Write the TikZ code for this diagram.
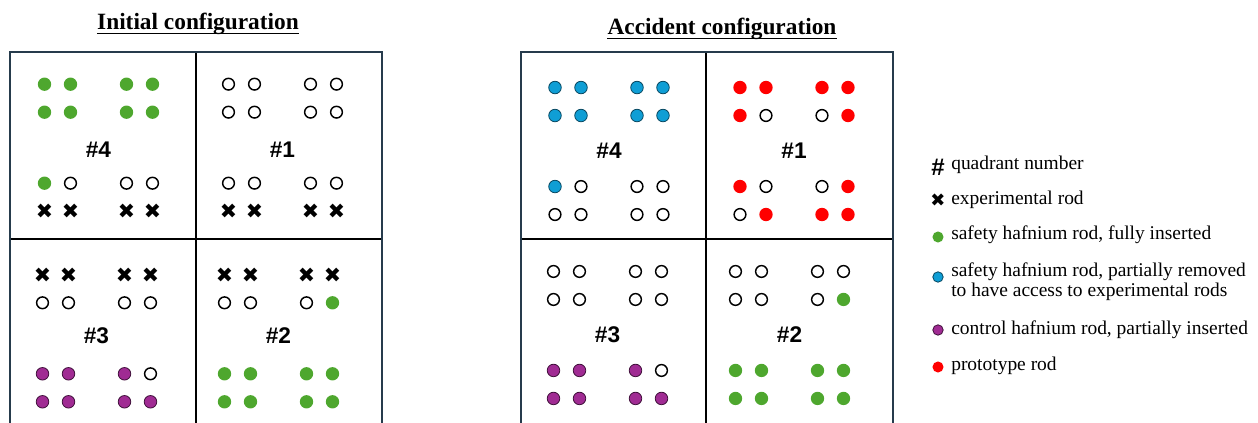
\documentclass[tikz,border=0pt]{standalone}
\usepackage{fontspec}
\setmainfont{Liberation Serif}
\setsansfont{Liberation Sans}
\newfontfamily\symfont{DejaVu Sans}
\usetikzlibrary{matrix}
\usetikzlibrary{positioning}

\definecolor{safegreen}{HTML}{4EA72E}
\definecolor{partblue}{HTML}{0F9ED5}
\definecolor{ctrlpurple}{HTML}{A02B93}
\definecolor{protored}{HTML}{FF0000}
\definecolor{framecol}{HTML}{263B4C}

\tikzset{
  rod/.style={circle,inner sep=0pt,outer sep=0pt,minimum size=10pt},
  vacant/.style={rod,draw,line width=1.1pt,minimum size=8.8pt},
  safe/.style={rod,fill=safegreen},
  part/.style={rod,fill=partblue,draw=partblue!45!black,line width=0.6pt,minimum size=9.4pt},
  ctrl/.style={rod,fill=ctrlpurple,draw=ctrlpurple!40!black,line width=0.6pt,minimum size=9.4pt},
  proto/.style={rod,fill=protored},
  expt/.style={rod,font=\symfont\fontsize{15.5}{15.5}\selectfont},
  rods/.style={matrix of nodes,nodes={anchor=center},
    column sep={19.5pt,between origins},row sep={21pt,between origins}},
  quad/.style={font=\sffamily\bfseries\fontsize{17}{17}\selectfont,inner sep=0pt},
  title/.style={font=\bfseries\fontsize{17.5}{17.5}\selectfont,inner sep=0pt,anchor=base},
  keytext/.style={font=\fontsize{14.6}{15.2}\selectfont,inner sep=0pt,anchor=base west,align=left},
}

\begin{document}
\begin{tikzpicture}[x=0.75pt,y=-0.75pt]
\useasboundingbox (0,0) rectangle (1258,423);

% titles
\node[title] (tinit) at (198,30) {Initial configuration};
\node[title] (tacc) at (722,35) {Accident configuration};
\draw[line width=1pt] ([yshift=-2.6pt]tinit.base west) -- ([yshift=-2.6pt]tinit.base east);
\draw[line width=1pt] ([yshift=-2.6pt]tacc.base west) -- ([yshift=-2.6pt]tacc.base east);

% grids
\draw[black,line width=1pt] (196,52) -- (196,426) (10,239) -- (382,239);
\draw[framecol,line width=1.1pt] (10,52) rectangle (382,426);
\draw[black,line width=1pt] (706,52) -- (706,426) (521,239) -- (893,239);
\draw[framecol,line width=1.1pt] (521,52) rectangle (893,426);

% initial configuration
\matrix (i4) [rods] at (98.5,150) {
  |[safe]|{} & |[safe]|{} &[22.5pt] |[safe]|{} & |[safe]|{} \\
  |[safe]|{} & |[safe]|{} &[22.5pt] |[safe]|{} & |[safe]|{} \\[32.25pt]
  |[safe]|{} & |[vacant]|{} &[22.5pt] |[vacant]|{} & |[vacant]|{} \\
  |[expt]|✖ & |[expt]|✖ &[22.5pt] |[expt]|✖ & |[expt]|✖ \\
};
\matrix (i1) [rods] at (282.5,150) {
  |[vacant]|{} & |[vacant]|{} &[22.5pt] |[vacant]|{} & |[vacant]|{} \\
  |[vacant]|{} & |[vacant]|{} &[22.5pt] |[vacant]|{} & |[vacant]|{} \\[32.25pt]
  |[vacant]|{} & |[vacant]|{} &[22.5pt] |[vacant]|{} & |[vacant]|{} \\
  |[expt]|✖ & |[expt]|✖ &[22.5pt] |[expt]|✖ & |[expt]|✖ \\
};
\matrix (i3) [rods] at (96.5,336) {
  |[expt]|✖ & |[expt]|✖ &[22.5pt] |[expt]|✖ & |[expt]|✖ \\
  |[vacant]|{} & |[vacant]|{} &[22.5pt] |[vacant]|{} & |[vacant]|{} \\[32.25pt]
  |[ctrl]|{} & |[ctrl]|{} &[22.5pt] |[ctrl]|{} & |[vacant]|{} \\
  |[ctrl]|{} & |[ctrl]|{} &[22.5pt] |[ctrl]|{} & |[ctrl]|{} \\
};
\matrix (i2) [rods] at (278.5,336) {
  |[expt]|✖ & |[expt]|✖ &[22.5pt] |[expt]|✖ & |[expt]|✖ \\
  |[vacant]|{} & |[vacant]|{} &[22.5pt] |[vacant]|{} & |[safe]|{} \\[32.25pt]
  |[safe]|{} & |[safe]|{} &[22.5pt] |[safe]|{} & |[safe]|{} \\
  |[safe]|{} & |[safe]|{} &[22.5pt] |[safe]|{} & |[safe]|{} \\
};
\node[quad] (qi4) at (i4) {\#4};
\node[quad] (qi1) at (i1) {\#1};
\node[quad] (qi3) at (i3) {\#3};
\node[quad] (qi2) at (i2) {\#2};

% accident configuration
\matrix (a4) [rods] at (609,151) {
  |[part]|{} & |[part]|{} &[22.5pt] |[part]|{} & |[part]|{} \\
  |[part]|{} & |[part]|{} &[22.5pt] |[part]|{} & |[part]|{} \\[32.25pt]
  |[part]|{} & |[vacant]|{} &[22.5pt] |[vacant]|{} & |[vacant]|{} \\
  |[vacant]|{} & |[vacant]|{} &[22.5pt] |[vacant]|{} & |[vacant]|{} \\
};
\matrix (a1) [rods] at (794,151) {
  |[proto]|{} & |[proto]|{} &[22.5pt] |[proto]|{} & |[proto]|{} \\
  |[proto]|{} & |[vacant]|{} &[22.5pt] |[vacant]|{} & |[proto]|{} \\[32.25pt]
  |[proto]|{} & |[vacant]|{} &[22.5pt] |[vacant]|{} & |[proto]|{} \\
  |[vacant]|{} & |[proto]|{} &[22.5pt] |[proto]|{} & |[proto]|{} \\
};
\matrix (a3) [rods] at (607.5,335) {
  |[vacant]|{} & |[vacant]|{} &[22.5pt] |[vacant]|{} & |[vacant]|{} \\
  |[vacant]|{} & |[vacant]|{} &[22.5pt] |[vacant]|{} & |[vacant]|{} \\[32.25pt]
  |[ctrl]|{} & |[ctrl]|{} &[22.5pt] |[ctrl]|{} & |[vacant]|{} \\
  |[ctrl]|{} & |[ctrl]|{} &[22.5pt] |[ctrl]|{} & |[ctrl]|{} \\
};
\matrix (a2) [rods] at (789.5,335) {
  |[vacant]|{} & |[vacant]|{} &[22.5pt] |[vacant]|{} & |[vacant]|{} \\
  |[vacant]|{} & |[vacant]|{} &[22.5pt] |[vacant]|{} & |[safe]|{} \\[32.25pt]
  |[safe]|{} & |[safe]|{} &[22.5pt] |[safe]|{} & |[safe]|{} \\
  |[safe]|{} & |[safe]|{} &[22.5pt] |[safe]|{} & |[safe]|{} \\
};
\node[quad] (qa4) at (a4) {\#4};
\node[quad] (qa1) at (a1) {\#1};
\node[quad] (qa3) at (a3) {\#3};
\node[quad] (qa2) at (a2) {\#2};

% legend
\node[quad,font=\sffamily\bfseries\fontsize{18}{18}\selectfont] (kq) at (938,167) {\#};
\node[keytext] (tq) at (951,170) {quadrant number};
\node[expt,font=\symfont\fontsize{13.5}{13.5}\selectfont] (kx) at (938,200) {✖};
\node[keytext] (tx) at (951,205) {experimental rod};
\node[safe,minimum size=8.3pt] (kg) at (938,237) {};
\node[keytext] (tg) at (951,240) {safety hafnium rod, fully inserted};
\node[part,minimum size=7.8pt] (kb) at (938,277) {};
\node[keytext] (tb) at (951,297) {safety hafnium rod, partially removed\\to have access to experimental rods};
\node[ctrl,minimum size=7.8pt] (kp) at (938,330) {};
\node[keytext] (tp) at (951,335) {control hafnium rod, partially inserted};
\node[proto,minimum size=8.3pt] (kr) at (938,367) {};
\node[keytext] (tr) at (951,371) {prototype rod};
\end{tikzpicture}
\end{document}
